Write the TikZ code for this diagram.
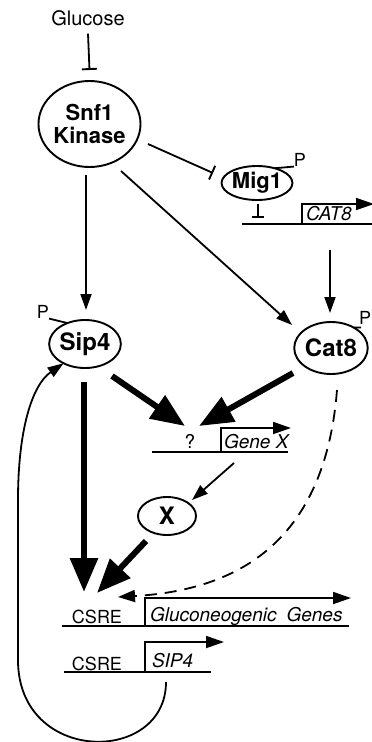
\documentclass[tikz,border=0pt]{standalone}
\usepackage{fontspec}
\setmainfont{TeX Gyre Heros}
\usetikzlibrary{arrows.meta,shapes.geometric,calc}
\tikzset{
  x=1pt, y=-1pt,
  every node/.style={inner sep=0pt, outer sep=0pt},
  thin line/.style={line width=1.8pt},
  prot/.style={ellipse, draw, line width=1.9pt, font=\fontsize{24}{26}\selectfont\bfseries},
  act/.style={thin line, -{Triangle[length=16pt,width=11pt]}},
  inh/.style={thin line, -{Bar[width=15pt,line width=1.9pt]}},
  strong/.style={line width=6pt, -{Triangle[length=34pt,width=27pt]}},
  weak/.style={thin line, dash pattern=on 12pt off 8pt, -{Triangle[length=17pt,width=12pt]}},
  dna/.style={line width=1.8pt},
  tss/.style={line width=1.8pt, -{Triangle[length=18pt,width=12pt]}},
  gene/.style={font=\fontsize{19}{22}\selectfont\itshape},
  site/.style={font=\fontsize{18}{22}\selectfont},
  phos/.style={font=\fontsize{18}{20}\selectfont},
}
\begin{document}
\begin{tikzpicture}
\useasboundingbox (0,0) rectangle (372,742);

% proteins
\node[prot, minimum width=101pt, minimum height=86pt, align=center,
      font=\fontsize{22}{23}\selectfont\bfseries] (snf1) at (89.5,124) {Snf1\\Kinase};
\node[prot, minimum width=68pt, minimum height=34pt, font=\fontsize{22}{24}\selectfont\bfseries] (mig1) at (257,183) {Mig1};
\node[prot, minimum width=68pt, minimum height=48pt] (sip4) at (85,344) {Sip4};
\node[prot, minimum width=70pt, minimum height=52pt] (cat8) at (331,348) {Cat8};
\node[prot, minimum width=58pt, minimum height=38pt] (xprot) at (167,516) {X};

% glucose signal
\node[font=\fontsize{20}{22}\selectfont] (glu) at (88,18) {Glucose};
\draw[inh] ([yshift=-8pt]glu.south) -- ([yshift=11pt]snf1.north);

% phosphate marks
\node[phos] (pmig) at (300,160) {P};
\node[phos] (psip) at (43,312) {P};
\node[phos, anchor=west] (pcat) at (359,318) {P};
\draw[thin line] (mig1.40) -- (pmig.south west);
\draw[thin line] (sip4.130) -- (psip.south east);
\draw[thin line] (cat8.42) -- ([xshift=2pt,yshift=-3pt]pcat.south west);

% CAT8 locus
\coordinate (catL) at (242,224);
\coordinate (catR) at (372,224);
\coordinate (catP) at (302,224);
\draw[dna] (catL) -- (catR);
\draw[tss] (catP) -- ++(0,-20) -- ++(72,0);
\node[gene, anchor=base west] (cat8gene) at (306,220) {CAT8};
\coordinate (migsite) at (258,217);
\draw[thin line] (migsite) -- ++(0,-13);
\draw[line width=1.9pt] ($(migsite)+(-6,0)$) -- ($(migsite)+(6,0)$);

% Gene X locus
\coordinate (gxL) at (152,452);
\coordinate (gxR) at (288,452);
\coordinate (gxP) at (221,452);
\draw[dna] (gxL) -- (gxR);
\draw[tss] (gxP) -- ++(0,-24) -- ++(70,0);
\node[gene, anchor=base west] (genex) at (224,448) {Gene X};
\node[font=\fontsize{19}{22}\selectfont, anchor=base] (qsite) at (190,448) {?};

% gluconeogenic genes
\coordinate (ggL) at (62,626);
\coordinate (ggR) at (349,626);
\coordinate (ggP) at (145,626);
\draw[dna] (ggL) -- (ggR);
\draw[tss] (ggP) -- ++(0,-28) -- ++(206,0);
\node[site, anchor=base] (csre1) at (97,623) {CSRE};
\node[gene, anchor=base west] (gluco) at (150,621) {Gluconeogenic\hspace{10pt}Genes};

% SIP4 gene
\coordinate (spL) at (64,672);
\coordinate (spR) at (211,672);
\coordinate (spP) at (145,672);
\draw[dna] (spL) -- (spR);
\draw[tss] (spP) -- ++(0,-30) -- ++(79,0);
\node[site, anchor=base] (csre2) at (97,670) {CSRE};
\node[gene, anchor=base west] (sip4gene) at (152,667) {SIP4};

% regulatory connections
\coordinate (mig1in) at (213,173);
\draw[inh] ($(snf1.center)!1!(148,144)$) -- (mig1in);
\draw[act] (86,175) -- ([yshift=10pt]sip4.north -| 86,0);
\draw[act] (121,171) -- (292,325);
\draw[act] (330,250) -- (330,313);

\coordinate (qin) at (190,427);
\draw[strong] (112,376) -- (185,426);
\draw[strong] (293,373) -- (199,426);

\draw[act] (234,463) -- (192,500);

\coordinate (csrein) at (98,592);
\draw[strong] (84,382) -- (84,592);
\draw[strong] (146,541) -- (97,593);
\draw[weak] (337,390) .. controls (325,540) and (240,590) .. (118,597);

% SIP4 feedback loop
\draw[act] (166,682) .. controls (166,765) and (18,765) .. (18,660)
   -- (18,500) .. controls (18,430) and (32,385) .. (sip4.-138);
\end{tikzpicture}
\end{document}
